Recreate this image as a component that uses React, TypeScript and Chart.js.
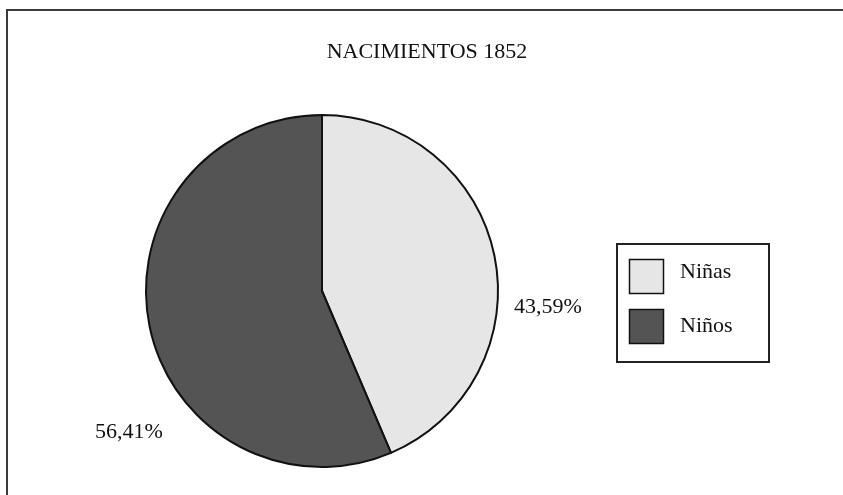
import React, { useEffect, useRef } from "react";
import { Chart, registerables } from "chart.js";

Chart.register(...registerables);

const TITLE = "NACIMIENTOS 1852";
const categories = ["Niñas", "Niños"];
const percentages = [43.59, 56.41];
const sliceColors = ["#e6e6e6", "#545454"];

const FONT = '"Liberation Serif", "Times New Roman", serif';
const W = 843;
const H = 495;

// label placement relative to pie centre, in units of radius (style only)
const labelOffsets = [
  { dx: 1.284, dy: 0.125 },
  { dx: -1.097, dy: 0.835 },
];

const fmt = (v: number) => v.toFixed(2).replace(".", ",") + "%";

const decorPlugin = {
  id: "decor",
  beforeDraw(chart: any) {
    const ctx = chart.ctx;
    ctx.save();
    ctx.fillStyle = "#ffffff";
    ctx.fillRect(0, 0, W, H);
    // frame (left & top lines)
    ctx.fillStyle = "#3a3a3a";
    ctx.fillRect(6, 9, 2, H);
    ctx.fillRect(6, 9, W, 2);
    // title
    ctx.fillStyle = "#111";
    ctx.font = `22px ${FONT}`;
    ctx.textAlign = "center";
    ctx.textBaseline = "alphabetic";
    ctx.fillText(TITLE, 427, 58);
    ctx.restore();
  },
  afterDraw(chart: any) {
    const ctx = chart.ctx;
    const meta = chart.getDatasetMeta(0);
    const ds = chart.data.datasets[0];
    const vals: number[] = ds.data;
    const total = vals.reduce((a, b) => a + b, 0);
    ctx.save();
    ctx.fillStyle = "#111";
    ctx.font = `22px ${FONT}`;
    ctx.textAlign = "center";
    ctx.textBaseline = "alphabetic";
    meta.data.forEach((arc: any, i: number) => {
      const { x, y, outerRadius } = arc.getProps(["x", "y", "outerRadius"], true);
      const off = labelOffsets[i];
      const pct = (vals[i] / total) * 100;
      ctx.fillText(fmt(pct), x + off.dx * outerRadius, y + off.dy * outerRadius);
    });

    // legend box
    const lx = 616, ly = 243, lw = 154, lh = 120;
    ctx.strokeStyle = "#222";
    ctx.lineWidth = 2;
    ctx.strokeRect(lx + 1, ly + 1, lw - 2, lh - 2);
    const labels: string[] = chart.data.labels;
    const swatchY = [259, 309];
    const textY = [278, 332];
    labels.forEach((lab, i) => {
      ctx.fillStyle = ds.backgroundColor[i];
      ctx.fillRect(629, swatchY[i], 35, 35);
      ctx.strokeStyle = "#111";
      ctx.lineWidth = 1.5;
      ctx.strokeRect(629.5, swatchY[i] + 0.5, 34, 34);
      ctx.fillStyle = "#111";
      ctx.textAlign = "left";
      ctx.fillText(lab, 680, textY[i]);
    });
    ctx.restore();
  },
};

export default function App() {
  const ref = useRef<HTMLCanvasElement | null>(null);
  useEffect(() => {
    if (!ref.current) return;
    const chart = new Chart(ref.current, {
      type: "pie",
      data: {
        labels: categories,
        datasets: [
          {
            data: percentages,
            backgroundColor: sliceColors,
            borderColor: "#111111",
            borderWidth: 2,
          },
        ],
      },
      options: {
        responsive: false,
        animation: false,
        layout: { padding: { left: 145, right: 344, top: 114, bottom: 27 } },
        plugins: {
          legend: { display: false },
          title: { display: false },
          tooltip: { enabled: false },
        },
      },
      plugins: [decorPlugin],
    });
    return () => chart.destroy();
  }, []);
  return (
    <div style={{ position: "fixed", left: 0, top: 0, width: W, height: H, background: "#fff" }}>
      <canvas ref={ref} width={W} height={H} style={{ display: "block", width: W, height: H }} />
    </div>
  );
}
